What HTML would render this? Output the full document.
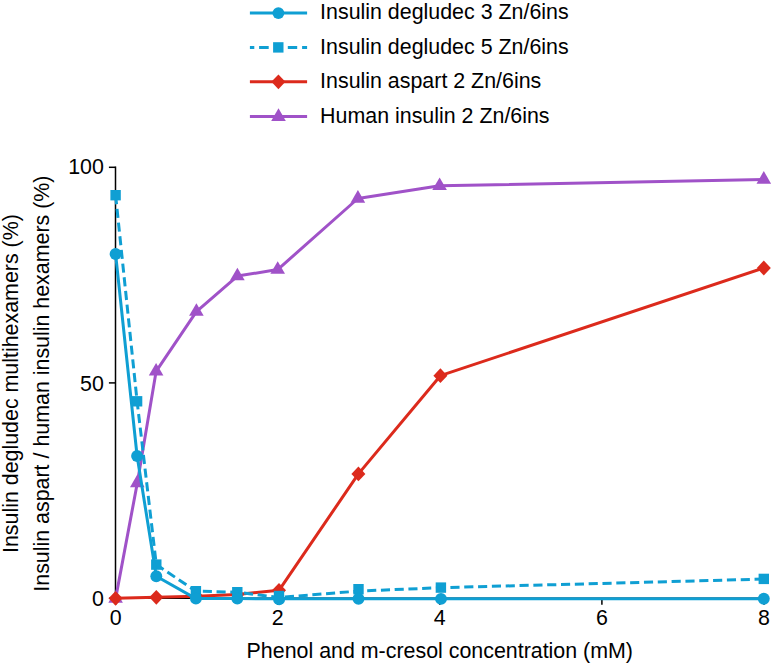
<!DOCTYPE html><html><head><meta charset="utf-8"><style>html,body{margin:0;padding:0;background:#fff}svg{display:block}text{font-family:"Liberation Sans",sans-serif;font-size:21.4px;fill:#000}</style></head><body>
<svg width="773" height="663" viewBox="0 0 773 663">
<rect width="773" height="663" fill="#fff"/>
<g stroke="#000" stroke-width="1.5" fill="none">
<path d="M115.5,166.5 V598.3 H764.5"/>
<path d="M108.9,167.3 H115.5"/>
<path d="M108.9,382.9 H115.5"/>
<path d="M108.9,598.3 H115.5"/>
<path d="M115.6,598.3 V604.8"/>
<path d="M277.7,598.3 V604.8"/>
<path d="M439.8,598.3 V604.8"/>
<path d="M601.9,598.3 V604.8"/>
<path d="M764.0,598.3 V604.8"/>
</g>
<text x="103.9" y="174.3" text-anchor="end">100</text>
<text x="103.9" y="390.5" text-anchor="end">50</text>
<text x="103.9" y="605.5" text-anchor="end">0</text>
<text x="115.6" y="624.9" text-anchor="middle">0</text>
<text x="277.7" y="624.9" text-anchor="middle">2</text>
<text x="439.8" y="624.9" text-anchor="middle">4</text>
<text x="601.9" y="624.9" text-anchor="middle">6</text>
<text x="764.0" y="624.9" text-anchor="middle">8</text>
<text x="439.8" y="658.1" text-anchor="middle">Phenol and m-cresol concentration (mM)</text>
<text transform="translate(18.3,383.6) rotate(-90)" text-anchor="middle">Insulin degludec multihexamers (%)</text>
<text transform="translate(48.9,383.6) rotate(-90)" text-anchor="middle">Insulin aspart / human insulin hexamers (%)</text>
<polyline points="115.6,598.6 137.3,483.0 156.1,371.4 196.4,311.6 237.4,276.1 277.7,269.6 357.9,198.5 439.6,185.8 763.8,179.5" fill="none" stroke="#a052c8" stroke-width="3" stroke-linejoin="round"/>
<polygon points="115.6,590.2 122.9,602.8 108.3,602.8" fill="#a052c8"/>
<polygon points="137.3,474.6 144.6,487.2 130.0,487.2" fill="#a052c8"/>
<polygon points="156.1,363.0 163.4,375.6 148.8,375.6" fill="#a052c8"/>
<polygon points="196.4,303.2 203.7,315.8 189.1,315.8" fill="#a052c8"/>
<polygon points="237.4,267.7 244.7,280.3 230.1,280.3" fill="#a052c8"/>
<polygon points="277.7,261.2 285.0,273.8 270.4,273.8" fill="#a052c8"/>
<polygon points="357.9,190.1 365.2,202.7 350.6,202.7" fill="#a052c8"/>
<polygon points="439.6,177.4 446.9,190.0 432.3,190.0" fill="#a052c8"/>
<polygon points="763.8,171.1 771.1,183.7 756.5,183.7" fill="#a052c8"/>
<polyline points="115.6,598.3 156.3,597.3 196.5,596.3 237.3,594.5 279.0,590.3 358.4,473.9 440.4,375.7 763.8,268.0" fill="none" stroke="#dc2a1c" stroke-width="3" stroke-linejoin="round"/>
<polygon points="115.6,590.9 122.6,598.3 115.6,605.7 108.6,598.3" fill="#dc2a1c"/>
<polygon points="156.3,589.9 163.3,597.3 156.3,604.7 149.3,597.3" fill="#dc2a1c"/>
<polygon points="196.5,588.9 203.5,596.3 196.5,603.7 189.5,596.3" fill="#dc2a1c"/>
<polygon points="237.3,587.1 244.3,594.5 237.3,601.9 230.3,594.5" fill="#dc2a1c"/>
<polygon points="279.0,582.9 286.0,590.3 279.0,597.7 272.0,590.3" fill="#dc2a1c"/>
<polygon points="358.4,466.5 365.4,473.9 358.4,481.3 351.4,473.9" fill="#dc2a1c"/>
<polygon points="440.4,368.3 447.4,375.7 440.4,383.1 433.4,375.7" fill="#dc2a1c"/>
<polygon points="763.8,260.6 770.8,268.0 763.8,275.4 756.8,268.0" fill="#dc2a1c"/>
<polyline points="115.6,195.2 137.1,401.3 156.3,564.6 195.9,591.2 237.3,592.2 279.0,597.5 358.5,591.1 440.9,587.7" fill="none" stroke="#0f9fd3" stroke-width="3" stroke-linejoin="round" stroke-dasharray="9.1 4.65"/>
<polyline points="440.9,587.7 763.8,579.1" fill="none" stroke="#0f9fd3" stroke-width="3" stroke-linejoin="round" stroke-dasharray="9.15 4.68" stroke-dashoffset="4.33"/>
<rect x="110.4" y="190.0" width="10.4" height="10.4" fill="#0f9fd3"/>
<rect x="131.9" y="396.1" width="10.4" height="10.4" fill="#0f9fd3"/>
<rect x="151.1" y="559.4" width="10.4" height="10.4" fill="#0f9fd3"/>
<rect x="190.7" y="586.0" width="10.4" height="10.4" fill="#0f9fd3"/>
<rect x="232.1" y="587.0" width="10.4" height="10.4" fill="#0f9fd3"/>
<rect x="273.8" y="590.8" width="10.4" height="10.4" fill="#0f9fd3"/>
<rect x="353.3" y="584.0" width="10.4" height="10.4" fill="#0f9fd3"/>
<rect x="435.7" y="582.4" width="10.4" height="10.4" fill="#0f9fd3"/>
<rect x="758.6" y="573.7" width="10.4" height="10.4" fill="#0f9fd3"/>
<polyline points="115.6,254.0 137.1,456.0 156.3,576.2 195.9,598.6 237.3,598.6 279.1,598.7 358.5,598.7 441.0,598.8 763.8,598.8" fill="none" stroke="#0f9fd3" stroke-width="3" stroke-linejoin="round"/>
<circle cx="115.6" cy="254.0" r="5.95" fill="#0f9fd3"/>
<circle cx="137.1" cy="456.0" r="5.95" fill="#0f9fd3"/>
<circle cx="156.3" cy="576.2" r="5.95" fill="#0f9fd3"/>
<circle cx="195.9" cy="598.6" r="5.95" fill="#0f9fd3"/>
<circle cx="237.3" cy="598.6" r="5.95" fill="#0f9fd3"/>
<circle cx="279.1" cy="599.4" r="5.95" fill="#0f9fd3"/>
<circle cx="358.5" cy="598.7" r="5.95" fill="#0f9fd3"/>
<circle cx="441.0" cy="598.9" r="5.95" fill="#0f9fd3"/>
<circle cx="763.8" cy="598.8" r="5.95" fill="#0f9fd3"/>
<path d="M249.9,13.0 H307.1" stroke="#0f9fd3" stroke-width="3"/><circle cx="278.4" cy="13.1" r="5.95" fill="#0f9fd3"/>
<path d="M249.9,47.4 H254.3 M259.1,47.4 H268.7 M287.8,47.4 H297.2 M302.1,47.4 H307.1" stroke="#0f9fd3" stroke-width="3"/><rect x="273.1" y="42.2" width="10.4" height="10.4" fill="#0f9fd3"/>
<path d="M249.9,81.8 H307.1" stroke="#dc2a1c" stroke-width="3"/><polygon points="278.4,74.4 285.4,81.8 278.4,89.2 271.4,81.8" fill="#dc2a1c"/>
<path d="M249.9,116.4 H307.1" stroke="#a052c8" stroke-width="3"/><polygon points="278.5,108.3 285.8,120.9 271.2,120.9" fill="#a052c8"/>
<text x="320.1" y="19.4">Insulin degludec 3 Zn/6ins</text>
<text x="320.1" y="53.5">Insulin degludec 5 Zn/6ins</text>
<text x="320.1" y="87.9">Insulin aspart 2 Zn/6ins</text>
<text x="320.1" y="122.7">Human insulin 2 Zn/6ins</text>
</svg></body></html>
